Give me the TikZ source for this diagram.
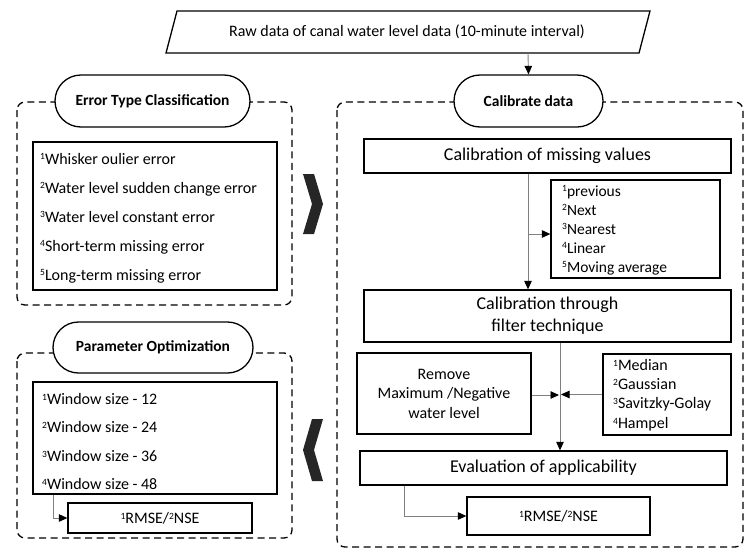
\documentclass[tikz,border=0pt]{standalone}
\usepackage{fontspec}
\setmainfont{Carlito}
\usetikzlibrary{arrows.meta,shapes.misc}
\newcommand{\sups}[1]{\raisebox{4.2pt}{\fontsize{9.5}{10}\selectfont #1}}
\begin{document}
\begin{tikzpicture}[x=1pt,y=-1pt]
\tikzset{
  box/.style={draw, line width=1.3pt, inner sep=0pt},
  pill/.style={rounded rectangle, draw, line width=1.3pt, fill=white, inner sep=0pt,
    font=\bfseries\fontsize{15.5}{18}\selectfont},
  panel/.style={draw, line width=1.3pt, dash pattern=on 7pt off 4.5pt, rounded corners=8pt},
  conn/.style={draw=gray, line width=0.9pt, -{Triangle[length=8.5pt,width=7.5pt,color=black]}},
  big/.style={font=\fontsize{18}{22}\selectfont},
  mid/.style={font=\fontsize{16}{20}\selectfont},
  chev/.style={fill=black!85, draw=none},
}
\useasboundingbox (0,0) rectangle (753,555);

% dashed panels
\draw[panel] (17,102) rectangle (292,305);
\draw[panel] (17,353) rectangle (292,538);
\draw[panel] (337,102) rectangle (743,547);

% top input
\draw[line width=1.3pt] (177,11) -- (650,11) -- (639,53) -- (166,53) -- cycle;
\node[mid] (raw) at (407,32) {Raw data of canal water level data (10-minute interval)};
\coordinate (rawb) at (528,53);

% pills
\node[pill, minimum width=195pt, minimum height=52pt] (etc) at (152.5,101) {Error Type Classification};
\node[pill, minimum width=200pt, minimum height=51pt] (popt) at (153,347.5) {Parameter Optimization};
\node[pill, minimum width=149pt, minimum height=52pt] (calib) at (528.5,101) {Calibrate data};

% left top panel
\node[box, minimum width=244pt, minimum height=148pt] (errbox) at (155,216) {};
\node[anchor=west, align=left, inner sep=0pt, font=\fontsize{16}{29}\selectfont] (errtxt) at (40,218)
  {\sups{1}Whisker oulier error\\
   \sups{2}Water level sudden change error\\
   \sups{3}Water level constant error\\
   \sups{4}Short-term missing error\\
   \sups{5}Long-term missing error};

% left bottom panel
\node[box, minimum width=244pt, minimum height=112pt] (winbox) at (155,438) {};
\node[anchor=west, align=left, inner sep=0pt, font=\fontsize{16}{28.5}\selectfont] (wintxt) at (42,441.5)
  {\sups{1}Window size - 12\\
   \sups{2}Window size - 24\\
   \sups{3}Window size - 36\\
   \sups{4}Window size - 48};
\node[box, mid, minimum width=184pt, minimum height=30pt] (rmse1) at (160,518) {\sups{1}RMSE/\sups{2}NSE};

% chevrons
\fill[chev] (303,174) -- (314,174) -- (323,204) -- (314,234) -- (303,234) -- (312,204) -- cycle;
\fill[chev] (323,419) -- (312,419) -- (303,450) -- (312,481) -- (323,481) -- (314,450) -- cycle;

% right panel
\node[box, big, minimum width=367pt, minimum height=34pt] (miss) at (547.5,156) {Calibration of missing values};
\node[box, minimum width=169pt, minimum height=98pt] (opt) at (635.5,229) {};
\node[anchor=west, align=left, inner sep=0pt, font=\fontsize{15.5}{19}\selectfont] (opttxt) at (562,230)
  {\sups{1}previous\\ \sups{2}Next\\ \sups{3}Nearest\\ \sups{4}Linear\\ \sups{5}Moving average};
\node[box, big, align=center, minimum width=367pt, minimum height=52pt,
      font=\fontsize{18}{22}\selectfont] (ftech) at (547.5,316) {Calibration through\\filter technique};
\node[box, align=center, minimum width=174pt, minimum height=81pt,
      font=\fontsize{16}{19.5}\selectfont] (remove) at (444,393.5) {Remove\\Maximum /Negative\\water level};
\node[box, minimum width=128pt, minimum height=81pt] (flist) at (667,394.5) {};
\node[anchor=west, align=left, inner sep=0pt, font=\fontsize{16}{19.3}\selectfont] (flisttxt) at (613,395)
  {\sups{1}Median\\ \sups{2}Gaussian\\ \sups{3}Savitzky-Golay\\ \sups{4}Hampel};
\node[box, big, minimum width=367pt, minimum height=34pt] (evalb) at (543.5,468) {Evaluation of applicability};
\node[box, mid, minimum width=183pt, minimum height=38pt] (rmse2) at (558.5,516) {\sups{1}RMSE/\sups{2}NSE};

% connectors
\coordinate (vx) at (528,0);
\coordinate (vy) at (560,0);
\coordinate (ex) at (404,0);
\coordinate (wx) at (53,0);
\draw[conn] (rawb) -- (calib.north);
\draw[conn] (miss.south -| vx) -- (ftech.north -| vx);
\draw[conn] ([yshift=-5pt]opt.west -| vx) -- ([yshift=-5pt]opt.west);
\draw[conn] (ftech.south -| vy) -- (evalb.north -| vy);
\draw[conn] ([yshift=-1.5pt]remove.east) -- ([yshift=-1.5pt,xshift=-1pt]remove.east -| vy);
\draw[conn] (flist.west) -- ([xshift=1pt]flist.west -| vy);
\draw[conn] (evalb.south -| ex) |- (rmse2.west);
\draw[conn] (winbox.south -| wx) |- (rmse1.west);
\end{tikzpicture}
\end{document}
